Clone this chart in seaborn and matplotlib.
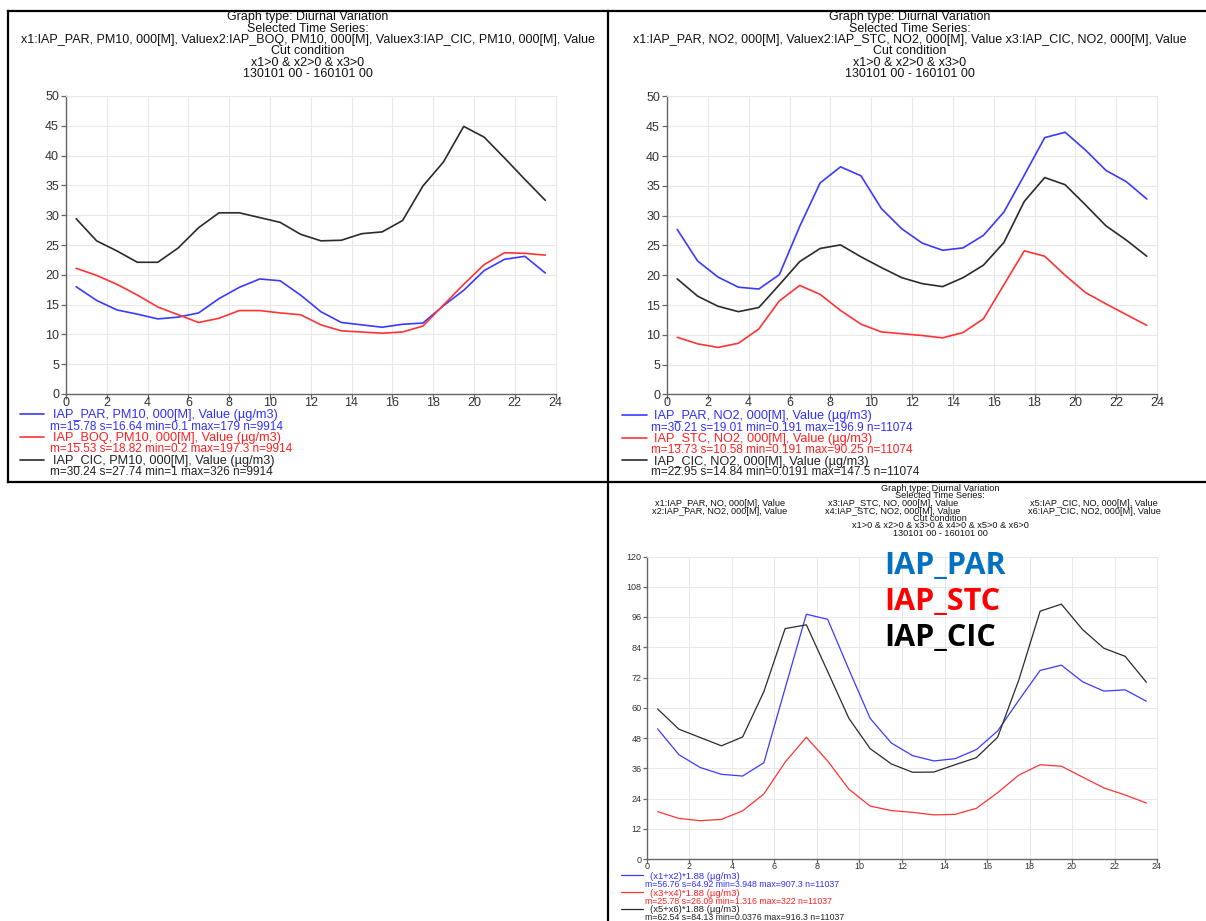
import matplotlib
matplotlib.use("Agg")
import matplotlib.pyplot as plt
from matplotlib.lines import Line2D
import seaborn as sns
import pandas as pd

# ---------------- data ----------------
hours = [0.5, 1.5, 2.5, 3.5, 4.5, 5.5, 6.5, 7.5, 8.5, 9.5, 10.5, 11.5,
         12.5, 13.5, 14.5, 15.5, 16.5, 17.5, 18.5, 19.5, 20.5, 21.5, 22.5, 23.5]

pm10_par = [18.0, 15.7, 14.1, 13.4, 12.6, 12.9, 13.6, 16.0, 17.9, 19.3, 19.0, 16.6,
            13.8, 12.0, 11.6, 11.2, 11.7, 11.9, 14.8, 17.4, 20.7, 22.6, 23.1, 20.3]
pm10_boq = [21.1, 19.9, 18.4, 16.6, 14.6, 13.3, 12.0, 12.7, 14.0, 14.0, 13.6, 13.3,
            11.6, 10.6, 10.4, 10.2, 10.4, 11.4, 14.9, 18.4, 21.7, 23.7, 23.6, 23.3]
pm10_cic = [29.4, 25.7, 24.0, 22.1, 22.1, 24.5, 27.9, 30.4, 30.4, 29.6, 28.8, 26.8,
            25.7, 25.8, 26.9, 27.2, 29.1, 34.9, 38.9, 44.9, 43.1, 39.6, 36.0, 32.5]

no2_par = [27.7, 22.4, 19.7, 18.0, 17.7, 20.1, 28.2, 35.5, 38.2, 36.7, 31.2, 27.8,
           25.4, 24.2, 24.6, 26.7, 30.6, 36.8, 43.1, 44.0, 41.0, 37.6, 35.7, 32.8]
no2_stc = [9.6, 8.5, 7.9, 8.6, 11.0, 15.7, 18.3, 16.8, 14.1, 11.8, 10.5, 10.2,
           9.9, 9.5, 10.4, 12.7, 18.4, 24.1, 23.2, 20.0, 17.1, 15.2, 13.4, 11.6]
no2_cic = [19.4, 16.5, 14.8, 13.9, 14.6, 18.4, 22.3, 24.5, 25.1, 23.1, 21.3, 19.6,
           18.6, 18.1, 19.6, 21.7, 25.5, 32.4, 36.4, 35.2, 31.8, 28.3, 25.9, 23.2]

nox_par = [51.6, 41.4, 36.3, 33.6, 32.9, 38.2, 67.7, 97.1, 95.1, 75.2, 55.8, 46.0,
           41.0, 38.9, 39.8, 43.4, 50.8, 63.0, 74.8, 76.9, 70.3, 66.6, 67.1, 62.6]
nox_stc = [18.8, 16.1, 15.2, 15.7, 19.1, 25.8, 38.4, 48.3, 38.9, 27.7, 21.0, 19.2,
           18.5, 17.5, 17.7, 20.1, 26.3, 33.3, 37.4, 36.8, 32.5, 28.2, 25.4, 22.2]
nox_cic = [59.5, 51.5, 48.2, 44.9, 48.4, 66.4, 91.4, 92.9, 74.4, 55.8, 43.8, 37.7,
           34.4, 34.5, 37.4, 40.2, 48.3, 71.1, 98.3, 101.1, 91.0, 83.6, 80.4, 70.1]

x_ticks = [0, 2, 4, 6, 8, 10, 12, 14, 16, 18, 20, 22, 24]
y_ticks_50 = [0, 5, 10, 15, 20, 25, 30, 35, 40, 45, 50]
y_ticks_120 = [0, 12, 24, 36, 48, 60, 72, 84, 96, 108, 120]

tl_title = ["Graph type: Diurnal Variation", "Selected Time Series:",
            "x1:IAP_PAR, PM10, 000[M], Valuex2:IAP_BOQ, PM10, 000[M], Valuex3:IAP_CIC, PM10, 000[M], Value",
            "Cut condition", "x1>0 & x2>0 & x3>0", "130101 00 - 160101 00"]
tr_title = ["Graph type: Diurnal Variation", "Selected Time Series:",
            "x1:IAP_PAR, NO2, 000[M], Valuex2:IAP_STC, NO2, 000[M], Value x3:IAP_CIC, NO2, 000[M], Value",
            "Cut condition", "x1>0 & x2>0 & x3>0", "130101 00 - 160101 00"]
br_title_top = ["Graph type: Diurnal Variation", "Selected Time Series:"]
br_cols = [["x1:IAP_PAR, NO, 000[M], Value", "x2:IAP_PAR, NO2, 000[M], Value"],
           ["x3:IAP_STC, NO, 000[M], Value", "x4:IAP_STC, NO2, 000[M], Value"],
           ["x5:IAP_CIC, NO, 000[M], Value", "x6:IAP_CIC, NO2, 000[M], Value"]]
br_title_bot = ["Cut condition", "x1>0 & x2>0 & x3>0 & x4>0 & x5>0 & x6>0",
                "130101 00 - 160101 00"]

tl_leg = [("IAP_PAR, PM10, 000[M], Value (µg/m3)", "m=15.78 s=16.64 min=0.1 max=179 n=9914"),
          ("IAP_BOQ, PM10, 000[M], Value (µg/m3)", "m=15.53 s=18.82 min=0.2 max=197.3 n=9914"),
          ("IAP_CIC, PM10, 000[M], Value (µg/m3)", "m=30.24 s=27.74 min=1 max=326 n=9914")]
tr_leg = [("IAP_PAR, NO2, 000[M], Value (µg/m3)", "m=30.21 s=19.01 min=0.191 max=196.9 n=11074"),
          ("IAP_STC, NO2, 000[M], Value (µg/m3)", "m=13.73 s=10.58 min=0.191 max=90.25 n=11074"),
          ("IAP_CIC, NO2, 000[M], Value (µg/m3)", "m=22.95 s=14.84 min=0.0191 max=147.5 n=11074")]
br_leg = [("(x1+x2)*1.88 (µg/m3)", "m=56.76 s=64.92 min=3.948 max=907.3 n=11037"),
          ("(x3+x4)*1.88 (µg/m3)", "m=25.78 s=26.09 min=1.316 max=322 n=11037"),
          ("(x5+x6)*1.88 (µg/m3)", "m=62.54 s=84.13 min=0.0376 max=916.3 n=11037")]
big_labels = ["IAP_PAR", "IAP_STC", "IAP_CIC"]

# ---------------- style ----------------
sns.set_theme(style="white")
plt.rcParams['font.family'] = ['Liberation Sans', 'DejaVu Sans']

LINE_COLORS = ["#3a3aff", "#ff3333", "#2b2b2b"]
TEXT_COLORS = ["#3030ff", "#ff2020", "#222222"]
BIG_COLORS = ["#0070c0", "#ff0000", "#000000"]

W, H = 1206, 921
fig = plt.figure(figsize=(W / 100, H / 100), dpi=100)
fig.patch.set_facecolor("white")


def fx(px):
    return px / W


def fy(py):
    return 1 - py / H


def make_ax(l, t, r, b):
    return fig.add_axes([fx(l), fy(b), (r - l) / W, (b - t) / H])


def style_ax(ax, ylim, yticks, fs, lw_grid=0.8, tlen=3.5, xpad=-1.5, ypad=1.5):
    ax.set_xlim(0, 24)
    ax.set_ylim(0, ylim)
    ax.set_xticks(x_ticks)
    ax.set_yticks(yticks)
    ax.grid(True, color="#e8e8e8", linewidth=lw_grid)
    ax.set_axisbelow(True)
    for s in ["top", "right"]:
        ax.spines[s].set_color("#e8e8e8")
        ax.spines[s].set_linewidth(lw_grid)
    for s in ["left", "bottom"]:
        ax.spines[s].set_color("#666666")
        ax.spines[s].set_linewidth(1.0)
    ax.tick_params(axis="both", which="both", direction="out", length=tlen, width=0.9,
                   color="#666666", labelsize=fs, labelcolor="#333333",
                   left=True, bottom=True, top=False, right=False)
    ax.tick_params(axis="x", pad=xpad)
    ax.tick_params(axis="y", pad=ypad)
    ax.set_xlabel("")
    ax.set_ylabel("")
    ax.set_facecolor("white")


def plot_series(ax, series, lw):
    for vals, c in zip(series, LINE_COLORS):
        df = pd.DataFrame({"hour": hours, "value": vals})
        sns.lineplot(data=df, x="hour", y="value", color=c, linewidth=lw, ax=ax,
                     legend=False, errorbar=None)


# ---------------- panels ----------------
ax1 = make_ax(66, 96, 555.5, 394)
plot_series(ax1, [pm10_par, pm10_boq, pm10_cic], 1.2)
style_ax(ax1, 50, y_ticks_50, 9)

ax2 = make_ax(667, 96.5, 1157, 394.5)
plot_series(ax2, [no2_par, no2_stc, no2_cic], 1.2)
style_ax(ax2, 50, y_ticks_50, 9)

ax3 = make_ax(647, 556.5, 1157, 859)
plot_series(ax3, [nox_par, nox_stc, nox_cic], 0.9)
style_ax(ax3, 120, y_ticks_120, 6.5, lw_grid=0.7, tlen=3, xpad=-0.5, ypad=1)

# ---------------- titles ----------------
title_y = [17, 28.5, 40, 51.5, 63, 74]
for s, yy in zip(tl_title, title_y):
    fig.text(fx(308), fy(yy), s, ha="center", va="center", fontsize=9, color="#111111")
for s, yy in zip(tr_title, title_y):
    fig.text(fx(910), fy(yy), s, ha="center", va="center", fontsize=9, color="#111111")

br_cx = 940
for s, yy in zip(br_title_top, [488.5, 495.5]):
    fig.text(fx(br_cx), fy(yy), s, ha="center", va="center", fontsize=6.6, color="#111111")
for col, cx in zip(br_cols, [720, 893, 1094]):
    for s, yy in zip(col, [503.5, 511]):
        fig.text(fx(cx), fy(yy), s, ha="center", va="center", fontsize=6.6, color="#111111")
for s, yy in zip(br_title_bot, [518, 525.5, 533]):
    fig.text(fx(br_cx), fy(yy), s, ha="center", va="center", fontsize=6.6, color="#111111")

# ---------------- legends ----------------
def legend_block(entries, x_line0, x_line1, x_title, x_stats, ys_title, ys_stats, fs1, fs2, lw):
    for (t, st), c, tc, yt, ys in zip(entries, LINE_COLORS, TEXT_COLORS, ys_title, ys_stats):
        fig.add_artist(Line2D([fx(x_line0), fx(x_line1)], [fy(yt - 1), fy(yt - 1)],
                              color=c, linewidth=lw, transform=fig.transFigure))
        fig.text(fx(x_title), fy(yt), t, ha="left", va="center", fontsize=fs1, color=tc)
        fig.text(fx(x_stats), fy(ys), st, ha="left", va="center", fontsize=fs2, color=tc)


legend_block(tl_leg, 20, 44, 53, 50, [415, 438, 461], [426.5, 449, 471.5], 9.2, 8.5, 1.2)
legend_block(tr_leg, 622, 647, 654, 651, [416, 439, 461.5], [427.5, 450, 472], 9.2, 8.5, 1.2)
legend_block(br_leg, 621, 643, 650, 645, [876, 893, 909.5], [884, 901, 917], 6.8, 6.3, 0.9)

# ---------------- big series labels ----------------
for s, c, yy in zip(big_labels, BIG_COLORS, [566, 602, 638]):
    fig.text(fx(884), fy(yy), s, ha="left", va="center", fontsize=22, fontweight="bold",
             color=c, family=["Open Sans", "DejaVu Sans"])

# ---------------- panel borders ----------------
border = dict(color="black", linewidth=1.6, transform=fig.transFigure, solid_capstyle="projecting")
fig.add_artist(Line2D([fx(7.5), fx(1206)], [fy(11), fy(11)], **border))
fig.add_artist(Line2D([fx(7.5), fx(1206)], [fy(482), fy(482)], **border))
fig.add_artist(Line2D([fx(7.5), fx(7.5)], [fy(11), fy(482)], **border))
fig.add_artist(Line2D([fx(607.5), fx(607.5)], [fy(11), fy(921)], **border))

fig.savefig("out.png", dpi=100, facecolor="white")
